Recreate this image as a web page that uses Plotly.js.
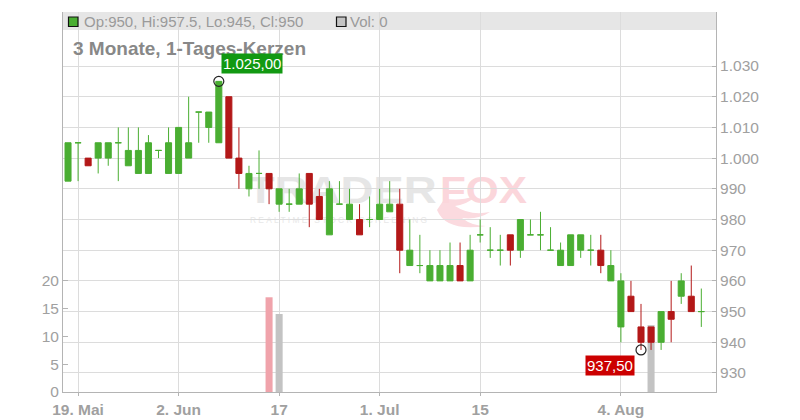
<!DOCTYPE html>
<html><head><meta charset="utf-8">
<script src="https://cdn.plot.ly/plotly-3.0.1.min.js"></script>
<style>html,body{margin:0;padding:0;background:#fff}#chart{width:800px;height:420px}</style>
</head><body><div id="chart"></div>
<script>
// ---- data (one entry per trading day, 16 May 2025 .. 14 Aug 2025) ----
const openP  = [992.5,1005,1000,1000,1000,1005,997.5,995,995,1002.5,995,995,1000,1015,1010,1005,1020,1000,990,995,995,985,985,985,995,987.5,975,985,980,980,980,980,982.5,985,965,965,960,960,960,965,960,975,970,970,975,970,975,975,970,965,965,970,970,970,960,945,955,945,945,940,950,955,955,950];
const highP  = [1005,1005,1000,1005,1005,1010,1010,1010,1007.5,1002.5,1010,1010,1020,1015,1015,1025,1020,1010,997.5,1002.5,995,990,990,995,995,990,992.5,992.5,990,985,987.5,990,992.5,990,980,975,970,970,972.5,972.5,975,980,977.5,975,975,980,980,982.5,977.5,972.5,975,975,975,975,970,962.5,960,952.5,945,950,960,962.5,965,957.5];
const lowP   = [992.5,992.5,997.5,995,997.5,992.5,997.5,995,995,1000,995,995,1000,1005,1005,1005,1000,990,987.5,990,985,982.5,982.5,985,977.5,980,975,985,980,975,977.5,980,982.5,962.5,965,962.5,960,960,960,960,960,972.5,967.5,965,965,967.5,975,970,970,965,965,967.5,965,962.5,960,940,950,937.5,937.5,937.5,940,952.5,950,945];
const closeP = [1005,1005,997.5,1005,1005,1005,1002.5,1002.5,1005,1002.5,1005,1010,1005,1015,1015,1025,1000,995,995,995,990,990,985,990,985,980,990,985,985,975,980,985,985,970,970,965,965,965,965,960,970,975,970,970,970,980,975,975,970,970,975,975,970,965,965,960,950,940,940,950,947.5,960,950,950];
const volume = [0,0,0,0,0,0,0,0,0,0,0,0,0,0,0,0,0,0,0,0,17,14,0,0,0,0,0,0,0,0,0,0,0,0,0,0,0,0,0,0,0,0,0,0,0,0,0,0,0,0,0,0,0,0,0,0,0,0,12,0,0,0,0,0];
const firstDay = '2025-05-16';
const holidays = ['2025-06-09'];
const tickDates  = ['2025-05-19','2025-06-02','2025-06-17','2025-07-01','2025-07-15','2025-08-04'];
const tickLabels = ['19. Mai','2. Jun','17','1. Jul','15','4. Aug'];
const priceTicks = [930,940,950,960,970,980,990,1000,1010,1020,1030];
const volTicks   = [0,5,10,15,20];
const chartTitle = '3 Monate, 1-Tages-Kerzen';

// ---- helpers ----
function tradingDays(start, n, skip){
  const out=[]; const d=new Date(start+'T12:00:00Z');
  while(out.length<n){
    const wd=d.getUTCDay(); const s=d.toISOString().slice(0,10);
    if(wd!==0 && wd!==6 && !skip.includes(s)) out.push(s);
    d.setUTCDate(d.getUTCDate()+1);
  }
  return out;
}
function fmtDE(v, dec){
  const parts = v.toFixed(dec).split('.');
  parts[0] = parts[0].replace(/\B(?=(\d{3})+(?!\d))/g,'.');
  return parts.join(',');
}
const days = tradingDays(firstDay, openP.length, holidays);
const N = days.length;

const GREEN='#4aae32', RED='#b31818', GRID='#dcdcdc', AXIS='#b4b4b4', TXT='#a0a0a0';
const FONT='"Liberation Sans", Arial, sans-serif';

function subset(pred){
  const r={x:[],open:[],high:[],low:[],close:[]};
  for(let i=0;i<N;i++) if(pred(i)){
    r.x.push(days[i]); r.open.push(openP[i]); r.high.push(highP[i]); r.low.push(lowP[i]); r.close.push(closeP[i]);
  }
  return r;
}
const up = subset(i=>closeP[i]>=openP[i]);
const dn = subset(i=>closeP[i]<openP[i]);

function candle(d,color){
  return Object.assign({type:'candlestick', xaxis:'x', yaxis:'y2', hoverinfo:'skip', whiskerwidth:0,
    increasing:{line:{color:color,width:1},fillcolor:color},
    decreasing:{line:{color:color,width:1},fillcolor:color}}, d);
}

const volColors = volume.map((v,i)=>{
  if(i===0) return '#c3c3c3';
  return closeP[i]<closeP[i-1] ? '#f0a3ab' : (closeP[i]>closeP[i-1] ? '#a8d89a' : '#c3c3c3');
});

const maxH = Math.max(...highP), iMax = highP.indexOf(maxH);
const minL = Math.min(...lowP),  iMin = lowP.indexOf(minL);
const L = N-1;

const traces = [
  {type:'bar', x:days, y:volume, xaxis:'x', yaxis:'y', marker:{color:volColors, line:{width:0}}, width:0.7, hoverinfo:'skip'},
  candle(up, GREEN),
  candle(dn, RED),
  {type:'scatter', mode:'markers', x:[days[iMax],days[iMin]], y:[maxH,minL], xaxis:'x', yaxis:'y2',
   marker:{symbol:'circle-open', size:10, color:'#222', line:{width:1.2}}, hoverinfo:'skip'}
];

// px -> paper helpers (plot area: x 63..716, y 12..392)
const PX=(p)=>(p-63)/653, PY=(p)=>(392-p)/380;

const wm = "<svg xmlns='http://www.w3.org/2000/svg' width='320' height='70' viewBox='0 0 320 70'>"+
  "<path d='M197 50 Q206 72 246 66 Q232 66 222 58 Q238 60 250 52 Q230 56 215 46 Q228 44 236 36 Q216 42 205 38 Z' fill='#fbdadf'/>"+
  "<text x='6.7' y='43.3' font-family='Liberation Sans' font-weight='bold' font-size='37' fill='#e6e6e6' textLength='190' lengthAdjust='spacingAndGlyphs'>TRADER</text>"+
  "<text x='200' y='43.3' font-family='Liberation Sans' font-weight='bold' font-size='37' fill='#fbd6db' textLength='87' lengthAdjust='spacingAndGlyphs'>FOX</text>"+
  "<text x='10' y='62.7' font-family='Liberation Sans' font-size='8.4' fill='#e8e8e8' textLength='177' lengthAdjust='spacing'>REALTIME STOCK SCREENING</text>"+
  "</svg>";

const layout = {
  width:800, height:420,
  margin:{l:63, r:84, t:12, b:28, pad:0},
  paper_bgcolor:'#ffffff', plot_bgcolor:'rgba(0,0,0,0)',
  showlegend:false, separators:',.',
  font:{family:FONT, color:TXT, size:15.5},
  boxmode:'overlay', boxgap:0.4, boxgroupgap:0,
  xaxis:{type:'category', categoryorder:'array', categoryarray:days, range:[-0.5, 64.46],
    tickvals:tickDates, ticktext:tickLabels, showgrid:true, gridcolor:GRID, gridwidth:1,
    showline:true, linecolor:AXIS, linewidth:1, ticks:'outside', ticklen:3, tickcolor:AXIS,
    tickfont:{family:FONT, size:15.5, color:TXT, weight:'bold'}, zeroline:false,
    rangeslider:{visible:false}, fixedrange:true},
  yaxis:{range:[0,68.2], side:'left', tickvals:volTicks, showgrid:false, zeroline:false,
    showline:true, linecolor:AXIS, linewidth:1, ticks:'inside', ticklen:5, tickcolor:AXIS,
    tickfont:{family:FONT, size:15.5, color:TXT}, fixedrange:true},
  yaxis2:{overlaying:'y', side:'right', range:[923.8,1047.6], tickvals:priceTicks, separatethousands:true,
    showgrid:true, gridcolor:GRID, gridwidth:1, zeroline:false,
    showline:true, linecolor:AXIS, linewidth:1, ticks:'inside', ticklen:4, tickcolor:AXIS,
    tickfont:{family:FONT, size:15.5, color:TXT}, fixedrange:true},
  images:[{source:'data:image/svg+xml;charset=utf-8,'+encodeURIComponent(wm), xref:'paper', yref:'paper',
    x:PX(240), y:PY(160), sizex:320/653, sizey:70/380, sizing:'stretch', xanchor:'left', yanchor:'top', layer:'below'}],
  shapes:[
    {type:'rect', xref:'paper', yref:'paper', x0:0, x1:1, y0:PY(30), y1:1, fillcolor:'#e6e6e6', line:{width:0}, layer:'below'},
    {type:'rect', xref:'paper', yref:'paper', x0:PX(68.5), x1:PX(78), y0:PY(26.5), y1:PY(17), fillcolor:GREEN, line:{color:'#111', width:1.2}},
    {type:'rect', xref:'paper', yref:'paper', x0:PX(336.5), x1:PX(346), y0:PY(26.5), y1:PY(17), fillcolor:'#c4c4c4', line:{color:'#111', width:1.2}}
  ],
  annotations:[
    {xref:'paper', yref:'paper', x:PX(82), y:PY(21.5), xanchor:'left', yanchor:'middle', showarrow:false,
     text:'Op:'+openP[L]+', Hi:'+highP[L]+', Lo:'+lowP[L]+', Cl:'+closeP[L], font:{family:FONT, size:15, color:'#9a9a9a'}},
    {xref:'paper', yref:'paper', x:PX(348), y:PY(21.5), xanchor:'left', yanchor:'middle', showarrow:false,
     text:'Vol: '+volume[L], font:{family:FONT, size:15, color:'#9a9a9a'}},
    {xref:'paper', yref:'paper', x:PX(71), y:PY(48.3), xanchor:'left', yanchor:'middle', showarrow:false,
     text:'<b>'+chartTitle+'</b>', font:{family:FONT, size:19, color:'#888888'}},
    {xref:'x', yref:'y2', x:days[iMax], y:maxH, xanchor:'left', yanchor:'bottom', xshift:2, yshift:7, showarrow:false,
     text:fmtDE(maxH,2), bgcolor:'#129912', borderpad:1, font:{family:FONT, size:15, color:'#ffffff'}},
    {xref:'x', yref:'y2', x:days[iMin], y:minL, xanchor:'right', yanchor:'top', xshift:-6, yshift:-5.5, showarrow:false,
     text:fmtDE(minL,2), bgcolor:'#cc0000', borderpad:1, font:{family:FONT, size:15, color:'#ffffff'}}
  ]
};

Plotly.newPlot('chart', traces, layout, {staticPlot:true, displayModeBar:false});
</script>
</body></html>
